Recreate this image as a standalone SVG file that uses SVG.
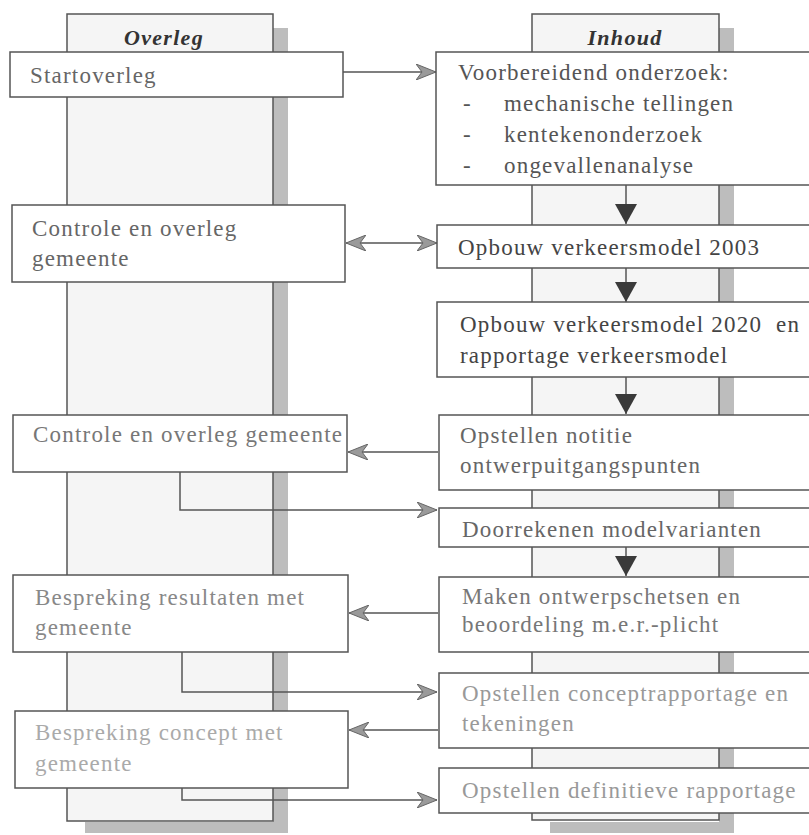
<svg xmlns="http://www.w3.org/2000/svg" width="809" height="835" viewBox="0 0 809 835">
<defs>
<style>
.lane{fill:#f5f5f5;stroke:#555;stroke-width:1.5}
.shadow{fill:#bdbdbd}
.box{fill:#fff;stroke:#555;stroke-width:1.5}
.t{font-family:"Liberation Serif","Times New Roman",serif;font-size:23px;letter-spacing:1.2px;fill:#666}
.h{font-family:"Liberation Serif","Times New Roman",serif;font-size:22px;font-weight:bold;font-style:italic;letter-spacing:1.3px;fill:#333;text-anchor:middle}
.c{fill:none;stroke:#555;stroke-width:1.5}
</style>
<marker id="ga" markerUnits="userSpaceOnUse" markerWidth="20" markerHeight="16" refX="20" refY="8" orient="auto-start-reverse">
<path d="M0,0 L20,8 L0,16 L6,8 z" fill="#9a9a9a" stroke="#666" stroke-width="1"/>
</marker>
<marker id="da" markerUnits="userSpaceOnUse" markerWidth="20" markerHeight="22" refX="20" refY="11" orient="auto">
<path d="M0,0 L20,11 L0,22 z" fill="#3a3a3a"/>
</marker>
</defs>
<rect width="809" height="835" fill="#fff"/>

<g id="lane-overleg">
<rect class="shadow" x="273" y="28" width="15" height="805"/>
<rect class="shadow" x="85" y="822" width="203" height="11"/>
<rect class="lane" x="67" y="14" width="206" height="807"/>
<text class="h" x="164" y="45">Overleg</text>
</g>
<g id="lane-inhoud">
<rect class="shadow" x="719" y="28" width="15" height="805"/>
<rect class="shadow" x="550" y="822" width="184" height="11"/>
<rect class="lane" x="532" y="14" width="187" height="806"/>
<text class="h" x="625" y="45">Inhoud</text>
</g>

<g id="connectors">
<path class="c" d="M343,72 H436" marker-end="url(#ga)"/>
<path class="c" d="M346,243 H437" marker-start="url(#ga)" marker-end="url(#ga)"/>
<path class="c" d="M626,185 V224" marker-end="url(#da)"/>
<path class="c" d="M626,268 V302" marker-end="url(#da)"/>
<path class="c" d="M626,377 V414" marker-end="url(#da)"/>
<path class="c" d="M626,547 V576" marker-end="url(#da)"/>
<path class="c" d="M438,452 H348" marker-end="url(#ga)"/>
<path class="c" d="M180,472 V510 H437" marker-end="url(#ga)"/>
<path class="c" d="M438,613 H349" marker-end="url(#ga)"/>
<path class="c" d="M182,652 V692 H437" marker-end="url(#ga)"/>
<path class="c" d="M438,730 H349" marker-end="url(#ga)"/>
<path class="c" d="M182,788 V800 H437" marker-end="url(#ga)"/>
</g>

<g id="startoverleg">
<rect class="box" x="10" y="52" width="333" height="45"/>
<text class="t" x="30" y="83">Startoverleg</text>
</g>
<g id="voorbereidend">
<rect class="box" x="436" y="52" width="380" height="133"/>
<text class="t" x="458" y="80" fill="#555" style="fill:#555">Voorbereidend onderzoek:</text>
<text class="t" x="463" y="111" style="fill:#555">-</text>
<text class="t" x="504" y="111" style="fill:#555">mechanische tellingen</text>
<text class="t" x="463" y="142" style="fill:#555">-</text>
<text class="t" x="504" y="142" style="fill:#555">kentekenonderzoek</text>
<text class="t" x="463" y="173" style="fill:#555">-</text>
<text class="t" x="504" y="173" style="fill:#555">ongevallenanalyse</text>
</g>
<g id="controle1">
<rect class="box" x="12" y="205" width="333" height="77"/>
<text class="t" x="32" y="236">Controle en overleg</text>
<text class="t" x="32" y="266">gemeente</text>
</g>
<g id="opbouw2003">
<rect class="box" x="437" y="225" width="380" height="43"/>
<text class="t" x="458" y="255" style="fill:#444">Opbouw verkeersmodel 2003</text>
</g>
<g id="opbouw2020">
<rect class="box" x="437" y="302" width="380" height="75"/>
<text class="t" x="460" y="332" style="fill:#444" xml:space="preserve">Opbouw verkeersmodel 2020  en</text>
<text class="t" x="460" y="363" style="fill:#444">rapportage verkeersmodel</text>
</g>
<g id="controle2">
<rect class="box" x="13" y="415" width="334" height="57"/>
<text class="t" x="33" y="442" style="fill:#777">Controle en overleg gemeente</text>
</g>
<g id="notitie">
<rect class="box" x="439" y="415" width="378" height="75"/>
<text class="t" x="460" y="443">Opstellen notitie</text>
<text class="t" x="460" y="473">ontwerpuitgangspunten</text>
</g>
<g id="doorrekenen">
<rect class="box" x="439" y="508" width="378" height="39"/>
<text class="t" x="462" y="537">Doorrekenen modelvarianten</text>
</g>
<g id="bespreking1">
<rect class="box" x="13" y="575" width="335" height="77"/>
<text class="t" x="35" y="605" style="fill:#888">Bespreking resultaten met</text>
<text class="t" x="35" y="635" style="fill:#888">gemeente</text>
</g>
<g id="maken">
<rect class="box" x="439" y="577" width="378" height="75"/>
<text class="t" x="462" y="604" style="fill:#777">Maken ontwerpschetsen en</text>
<text class="t" x="462" y="632" style="fill:#777">beoordeling m.e.r.-plicht</text>
</g>
<g id="concept">
<rect class="box" x="439" y="673" width="378" height="75"/>
<text class="t" x="462" y="701" style="fill:#999">Opstellen conceptrapportage en</text>
<text class="t" x="462" y="731" style="fill:#999">tekeningen</text>
</g>
<g id="bespreking2">
<rect class="box" x="15" y="711" width="333" height="77"/>
<text class="t" x="35" y="740" style="fill:#aaa">Bespreking concept met</text>
<text class="t" x="35" y="771" style="fill:#aaa">gemeente</text>
</g>
<g id="definitief">
<rect class="box" x="439" y="768" width="378" height="45"/>
<text class="t" x="462" y="798" style="fill:#999">Opstellen definitieve rapportage</text>
</g>
</svg>
